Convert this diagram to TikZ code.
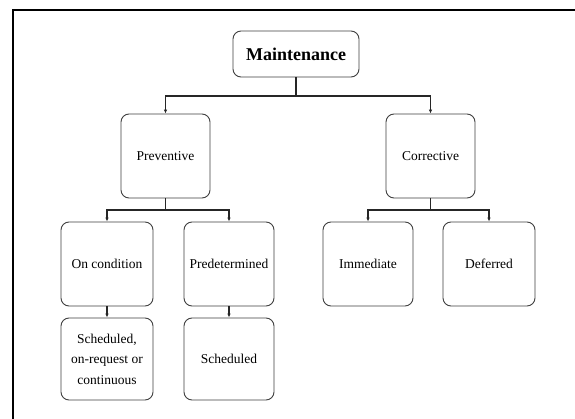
\documentclass[tikz,border=0pt]{standalone}
\usepackage{fontspec}
\setmainfont{Liberation Serif}
\usetikzlibrary{arrows.meta}
\begin{document}
\begin{tikzpicture}[x=1pt,y=-1pt,
  box/.style={draw=black!75,line width=0.9pt,rounded corners=8pt,inner sep=0pt,
    font=\fontsize{13.5}{20.5}\selectfont,align=center,fill=white},
  conn/.style={draw=black!85,line width=1.5pt,-{Latex[length=4pt,width=3.5pt]}},
  stem/.style={draw=black!85,line width=1.5pt},
  frameline/.style={draw=black,line width=2pt}]
\useasboundingbox (0,0) rectangle (575,419);
\fill[white] (0,0) rectangle (575,419);
\coordinate (ftl) at (12.5,10.5);
\coordinate (ftr) at (576,10.5);
\coordinate (fbl) at (12.5,420);
\draw[frameline] (ftr) -- (ftl) -- (fbl);

\node[box,minimum width=126pt,minimum height=46pt,font=\fontsize{18}{22}\selectfont\bfseries] (maint) at (296,54) {Maintenance};
\node[box,minimum width=89pt,minimum height=84pt] (prev) at (165.5,156) {Preventive};
\node[box,minimum width=89pt,minimum height=84pt] (corr) at (430.5,156) {Corrective};
\node[box,minimum width=92pt,minimum height=84pt] (oncond) at (107,264) {On condition};
\node[box,minimum width=90pt,minimum height=84pt] (predet) at (229,264) {Predetermined};
\node[box,minimum width=90pt,minimum height=84pt] (immed) at (368,264) {Immediate};
\node[box,minimum width=92pt,minimum height=84pt] (defer) at (489,264) {Deferred};
\node[box,minimum width=92pt,minimum height=82pt] (schedoc) at (107,359) {Scheduled,\\on-request or\\continuous};
\node[box,minimum width=90pt,minimum height=82pt] (sched) at (229,359) {Scheduled};

\coordinate (j0) at (296,96);
\coordinate (j1) at (165.5,210);
\coordinate (j2) at (430.5,210);
\draw[stem] (maint.south) -- (j0);
\draw[conn] (j0) -| (prev.north);
\draw[conn] (j0) -| (corr.north);
\draw[stem] (prev.south) -- (j1);
\draw[conn] (j1) -| (oncond.north);
\draw[conn] (j1) -| (predet.north);
\draw[stem] (corr.south) -- (j2);
\draw[conn] (j2) -| (immed.north);
\draw[conn] (j2) -| (defer.north);
\draw[conn] (oncond.south) -- (schedoc.north);
\draw[conn] (predet.south) -- (sched.north);
\end{tikzpicture}
\end{document}
